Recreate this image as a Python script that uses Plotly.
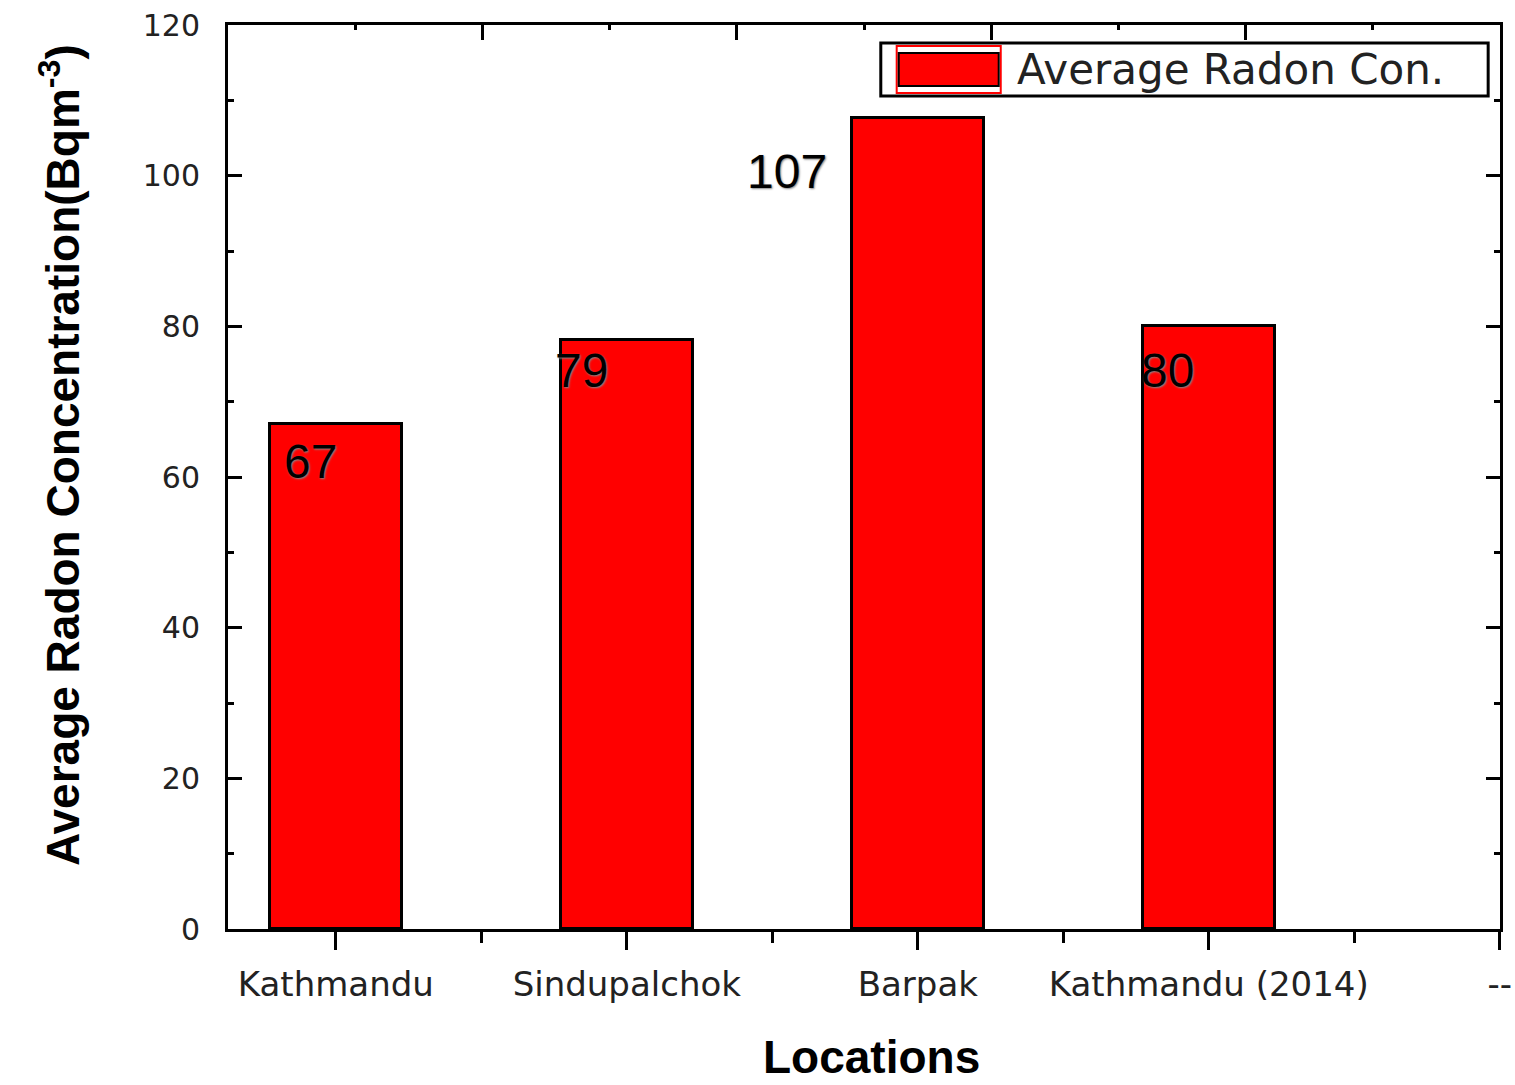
import plotly.graph_objects as go

# ---- data ----
categories = ["Kathmandu", "Sindupalchok", "Barpak", "Kathmandu (2014)"]
extra_tick = ["--"]
radon_values = [67, 78.2, 107.7, 80]
value_labels = ["67", "79", "107", "80"]
series_name = "Average Radon Con."
x_title = "Locations"
y_title = "Average Radon Concentration(Bqm<sup>-3</sup>)"
y_ticks = [0, 20, 40, 60, 80, 100, 120]

positions = list(range(len(categories)))
tick_positions = list(range(len(categories) + len(extra_tick)))

fig = go.Figure()
fig.add_trace(go.Bar(
    x=positions, y=radon_values, name=series_name,
    width=0.455,
    marker=dict(color="#FF0000", line=dict(color="black", width=3)),
    showlegend=False,
))
# invisible trace to drive the top axis
fig.add_trace(go.Scatter(x=[0, 10], y=[0, 0], xaxis="x2", mode="markers",
                         marker=dict(opacity=0), showlegend=False, hoverinfo="skip"))

tick_font_x = dict(family="DejaVu Sans", size=34, color="#222")
tick_font_y = dict(family="DejaVu Sans", size=30, color="#222")

fig.update_layout(
    width=1515, height=1085,
    margin=dict(l=228, r=3, t=25, b=156),
    paper_bgcolor="white", plot_bgcolor="white",
    bargap=0,
    xaxis=dict(
        range=[-0.3707, 4.001],
        tickmode="array", tickvals=tick_positions, ticktext=categories + extra_tick,
        ticks="outside", ticklen=18, tickwidth=3, tickcolor="black",
        minor=dict(tickmode="array", tickvals=[0.5, 1.5, 2.5, 3.5],
                   ticks="outside", ticklen=11, tickwidth=3, tickcolor="black"),
        showline=True, linecolor="black", linewidth=3, mirror=False,
        showgrid=False, zeroline=False,
        tickfont=tick_font_x, ticklabelstandoff=5, ticklabeloverflow="allow",
    ),
    xaxis2=dict(
        overlaying="x", side="top", range=[0, 10],
        tickmode="array", tickvals=[2, 4, 6, 8], ticks="inside", ticklen=15, tickwidth=3,
        tickcolor="black",
        minor=dict(tickmode="array", tickvals=[1, 3, 5, 7, 9], ticks="inside", ticklen=5,
                   tickwidth=3, tickcolor="black"),
        showticklabels=False, showline=True, linecolor="black", linewidth=3,
        showgrid=False, zeroline=False,
    ),
    yaxis=dict(
        range=[0, 120],
        tickmode="array", tickvals=y_ticks,
        ticks="inside", ticklen=14, tickwidth=3, tickcolor="black",
        minor=dict(dtick=10, ticks="inside", ticklen=6, tickwidth=3, tickcolor="black"),
        showline=True, linecolor="black", linewidth=3, mirror="ticks",
        showgrid=False, zeroline=False,
        tickfont=tick_font_y, ticklabelstandoff=19, ticklabeloverflow="allow",
    ),
)

# axis titles
fig.add_annotation(xref="paper", yref="paper", x=0, y=0.5243, xshift=-168,
                   xanchor="center", yanchor="middle", textangle=-90, showarrow=False,
                   text="<b>" + y_title + "</b>",
                   font=dict(family="Liberation Sans", size=46, color="black"))
fig.add_annotation(xref="paper", yref="paper", x=0.5, y=0, xshift=7, yshift=-128,
                   xanchor="center", yanchor="middle", showarrow=False,
                   text="<b>" + x_title + "</b>",
                   font=dict(family="Liberation Sans", size=46, color="black"))

# value labels (placed left of each bar top, as in the reference)
label_dx = [-0.184, -0.255, -0.595, -0.241]
label_y = [62.0, 74.1, 100.5, 74.1]
for i, txt in enumerate(value_labels):
    fig.add_annotation(
        x=positions[i] + label_dx[i], y=label_y[i], text=txt, showarrow=False,
        xanchor="left", yanchor="middle",
        font=dict(family="Liberation Sans", size=48, color="black", shadow="1px 1px 2px #888"),
    )

# manual legend box
fig.add_shape(type="rect", xref="paper", yref="paper", x0=0.5132, x1=0.9907, y0=0.9215, y1=0.9801,
              line=dict(color="black", width=3), fillcolor="white", layer="above")
fig.add_shape(type="rect", xref="paper", yref="paper", x0=0.5257, x1=0.6075, y0=0.9248, y1=0.9768,
              line=dict(color="#FF0000", width=2), fillcolor="white", layer="above")
fig.add_shape(type="rect", xref="paper", yref="paper", x0=0.5273, x1=0.6059, y0=0.9325, y1=0.9690,
              line=dict(color="black", width=2), fillcolor="#FF0000", layer="above")
fig.add_annotation(xref="paper", yref="paper", x=0.6184, y=0.951, text=series_name,
                   showarrow=False, xanchor="left", yanchor="middle",
                   font=dict(family="DejaVu Sans", size=42, color="#222"))

# remove the browser's default page margin so the figure fills the window exactly
fig.write_html(
    "out.html",
    config={"displayModeBar": False},
    post_script=(
        "document.body.style.margin='0';"
        "document.body.style.overflow='hidden';"
        "document.documentElement.style.overflow='hidden';"
    ),
)
